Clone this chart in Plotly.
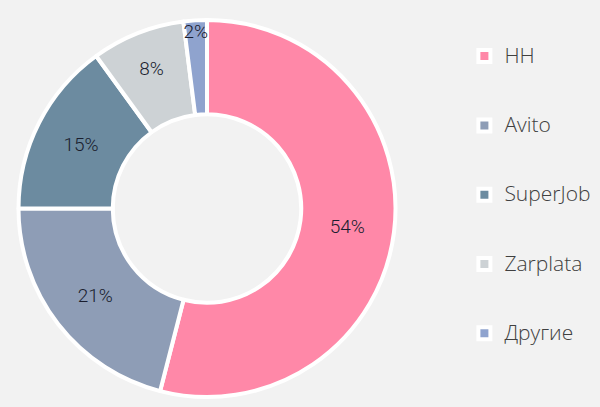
import plotly.graph_objects as go

labels = ["HH", "Avito", "SuperJob", "Zarplata", "Другие"]
values = [54, 21, 15, 8, 2]
colors = ["#FF88A8", "#8E9DB6", "#6C8BA0", "#CDD2D5", "#8FA3CE"]

legend_labels = [f' <br><span style="font-size:21px">{l}</span><br> ' for l in labels]

fig = go.Figure(go.Pie(
    labels=legend_labels,
    values=values,
    hole=0.5,
    sort=False,
    direction="clockwise",
    rotation=0,
    marker=dict(colors=colors, line=dict(color="white", width=4)),
    textinfo="percent",
    texttemplate="%{percent:.0%}",
    textposition="inside",
    insidetextorientation="horizontal",
    textfont=dict(family="Roboto", size=19, color="#1a1d2e", weight=300),
    domain=dict(x=[0, 414 / 600], y=[0, 1]),
))

fig.update_layout(
    width=600, height=407,
    margin=dict(l=0, r=0, t=20, b=10),
    paper_bgcolor="#F2F2F2",
    plot_bgcolor="#F2F2F2",
    showlegend=True,
    uniformtext=dict(minsize=19, mode="show"),
    legend=dict(
        x=0.774, y=0.536, xanchor="left", yanchor="middle",
        font=dict(family="Open Sans", size=17, color="#404040", weight=300),
        bgcolor="rgba(0,0,0,0)",
    ),
)

fig.write_html("out.html")
